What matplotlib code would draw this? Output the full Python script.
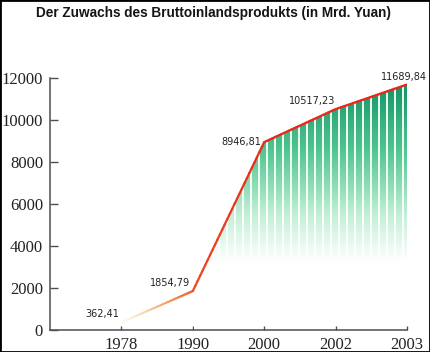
import numpy as np
import matplotlib.pyplot as plt
from matplotlib.colors import LinearSegmentedColormap, to_rgba
from matplotlib.collections import LineCollection
from matplotlib.patches import PathPatch, Rectangle

# Data
years = ["1978", "1990", "2000", "2002", "2003"]
gdp = [362.41, 1854.79, 8946.81, 10517.23, 11689.84]
gdp_labels = ["362,41", "1854,79", "8946,81", "10517,23", "11689,84"]
yticks = [0, 2000, 4000, 6000, 8000, 10000, 12000]

x = np.arange(len(years))
y = np.array(gdp)

fig = plt.figure(figsize=(4.3, 3.52), dpi=100)
ax = fig.add_axes([50 / 430, 1 - 330 / 352, 357 / 430, 252 / 352])
ax.set_xlim(-1, 4)
ax.set_ylim(0, 12000)

# green gradient area under the line (from 1990 on), with white stripes
green = LinearSegmentedColormap.from_list(
    "green",
    [(0.0, "#ffffff"), (0.27, "#ffffff"), (0.45, "#c6f0d8"),
     (0.7, "#56c893"), (1.0, "#0c9063")])
poly = ax.fill_between(x[1:], y[1:], 0, color="none", lw=0)
clip = PathPatch(poly.get_paths()[0], transform=ax.transData,
                 facecolor="none", edgecolor="none")
ax.add_patch(clip)
grad = np.linspace(0, 1, 256).reshape(-1, 1)
im = ax.imshow(grad, cmap=green, origin="lower", aspect="auto",
               extent=[-1, 4, 0, 12000], zorder=1)
im.set_clip_path(clip)

stripe_x = np.arange(4 - 0.056, 1.0, -0.112)
st = ax.vlines(stripe_x, 0, 12000, colors="white", lw=1.3, zorder=2)
st.set_clip_path(clip)

# line: fading yellow -> orange -> red
pts, cols = [], []
for i in range(len(x) - 1):
    t = np.linspace(0, 1, 30)
    xs = x[i] + (x[i + 1] - x[i]) * t
    ys = y[i] + (y[i + 1] - y[i]) * t
    for k in range(len(t) - 1):
        pts.append([(xs[k], ys[k]), (xs[k + 1], ys[k + 1])])
        if i == 0:
            c = np.array(to_rgba("#f7d27a")) * (1 - t[k]) + np.array(to_rgba("#ef5a22")) * t[k]
            c[3] = 0.05 + 0.95 * t[k]
        elif i == 1:
            c = np.array(to_rgba("#ef4a22")) * (1 - t[k]) + np.array(to_rgba("#e8281a")) * t[k]
        else:
            c = np.array(to_rgba("#e8281a"))
        cols.append(c)
lc = LineCollection(pts, colors=cols, linewidths=1.6, zorder=3, capstyle="round")
ax.add_collection(lc)

# value labels
offsets = [(-2, 3, "right", "bottom"), (-3, 3, "right", "bottom"),
           (-3, 0, "right", "center"), (0, 3, "right", "bottom"),
           (-3, 3, "center", "bottom")]
for xi, yi, lab, (dx, dy, ha, va) in zip(x, y, gdp_labels, offsets):
    ax.annotate(lab, (xi, yi), xytext=(dx, dy), textcoords="offset pixels",
                ha=ha, va=va, fontsize=7, color="#222222",
                family="DejaVu Sans", annotation_clip=False, zorder=4)

# axes styling
for s in ["top", "right"]:
    ax.spines[s].set_visible(False)
for s in ["left", "bottom"]:
    ax.spines[s].set_color("#4a4f55")
    ax.spines[s].set_linewidth(1.1)
ax.set_xticks(x)
ax.set_xticklabels(years)
ax.set_yticks(yticks)
ax.set_yticklabels([str(v) for v in yticks])
ax.tick_params(axis="y", direction="in", length=6, width=1, color="#4a4f55", pad=5)
ax.tick_params(axis="x", direction="in", length=3, width=1, color="#4a4f55", pad=5)
for lab in ax.get_xticklabels() + ax.get_yticklabels():
    lab.set_family("Liberation Serif")
    lab.set_fontsize(12)
    lab.set_color("#222222")

fig.text(213 / 430, 1 - 13 / 352, "Der Zuwachs des Bruttoinlandsprodukts (in Mrd. Yuan)",
         ha="center", va="center", fontsize=9.8, fontweight="bold",
         family=["Liberation Sans", "DejaVu Sans"], color="#151515")

# frame around the picture
fig.patches.append(Rectangle((0, 0), 1, 1, transform=fig.transFigure,
                             fill=False, edgecolor="black", lw=2))

fig.savefig("out.png", dpi=100)
